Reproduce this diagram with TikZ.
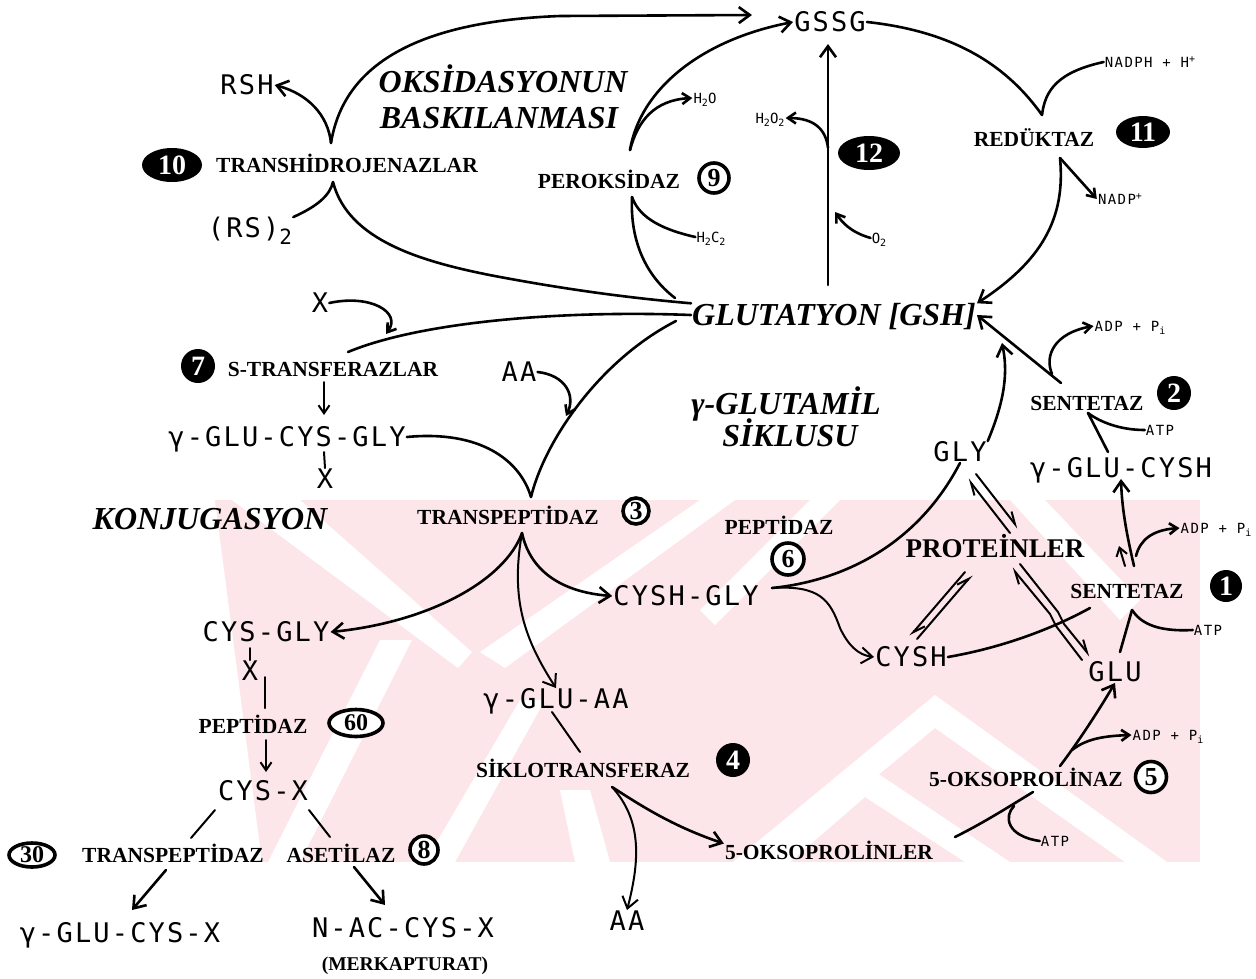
\documentclass[tikz,border=0pt]{standalone}
\usepackage{fontspec}
\setmainfont{Liberation Serif}
\newfontfamily\chemf[LetterSpace=8]{DejaVu Sans Mono}
\newfontfamily\chemsf[LetterSpace=10]{DejaVu Sans Mono}
\usetikzlibrary{arrows.meta,shapes.geometric,calc}
\definecolor{wm}{RGB}{253,230,234}
\newcommand\lowS[1]{\raisebox{-3pt}{\fontsize{10}{10}\selectfont #1}}
\newcommand\upS[1]{\raisebox{5pt}{\fontsize{10}{10}\selectfont #1}}
\newcommand\lowL[1]{\raisebox{-7pt}{\fontsize{21}{21}\selectfont #1}}
\tikzset{
 chem/.style={font=\chemf\fontsize{27}{27}\selectfont, inner sep=1pt, text height=19.5pt, text depth=0pt},
 chems/.style={font=\chemsf\fontsize{14}{14}\selectfont, inner sep=1pt, text height=10pt, text depth=0pt},
 enz/.style={font=\bfseries\fontsize{21.5}{22}\selectfont, inner sep=1pt, text height=14.5pt, text depth=0pt},
 ttl/.style={font=\bfseries\itshape\fontsize{32}{34}\selectfont, inner sep=1pt, text height=21pt, text depth=0pt},
 bb/.style={circle, fill=black, text=white, font=\bfseries\fontsize{28}{28}\selectfont, inner sep=0pt, minimum size=34pt},
 bw/.style={circle, draw=black, line width=3.6pt, fill=white, font=\bfseries\fontsize{26}{26}\selectfont, inner sep=0pt, minimum size=30pt},
 bb2/.style={ellipse, fill=black, text=white, font=\bfseries\fontsize{28}{28}\selectfont, inner sep=0pt, minimum width=60pt, minimum height=34pt},
 bw2/.style={ellipse, draw=black, line width=3.6pt, fill=white, font=\bfseries\fontsize{24}{24}\selectfont, inner sep=0pt, minimum width=54pt, minimum height=27pt},
 ln/.style={line width=2.6pt, line cap=round},
 lns/.style={line width=2pt, line cap=round},
 arr/.style={-{Straight Barb[length=11pt,width=16pt]}},
 arrs/.style={-{Straight Barb[length=8pt,width=11pt]}},
 harp/.style={-{Straight Barb[harpoon,length=12pt,width=10pt]}},
}
\begin{document}
\begin{tikzpicture}[x=1pt,y=-1pt]
\useasboundingbox (0,0) rectangle (1256,978);
\fill[white] (0,0) rectangle (1256,978);
% ---------- watermark ----------
\begin{scope}
\clip (215,500) -- (1200,500) -- (1200,862) -- (262,862) -- cycle;
\fill[wm] (200,500) rectangle (1200,862);
\fill[white] (232,500) -- (300,500) -- (472,652) -- (458,668) -- cycle;
\fill[white] (700,500) -- (735,500) -- (505,668) -- (480,652) -- cycle;
\fill[white] (380,640) -- (412,640) -- (300,862) -- (268,862) -- cycle;
\fill[white] (520,700) -- (545,700) -- (455,862) -- (425,862) -- cycle;
\fill[white] (560,790) -- (590,790) -- (610,862) -- (575,862) -- cycle;
\fill[white] (810,500) -- (840,500) -- (715,625) -- (700,610) -- cycle;
\fill[white] (733,862) -- (935,695) -- (1167,862) -- (1125,862) -- (935,728) -- (773,862) -- cycle;
\fill[white] (752,862) -- (865,765) -- (1010,862) -- (965,862) -- (865,797) -- (790,862) -- cycle;
\fill[white] (1010,500) -- (1045,500) -- (1140,600) -- (1120,620) -- cycle;
\end{scope}
% ---------- nodes ----------
\node[chem] (gssg) at (830,22) {GSSG};
\node[chem] (rsh) at (247,85) {RSH};
\node[chem] (rs2) at (250,228) {(RS)\lowL{2}};
\node[bb2] (b10) at (172,165) {10};
\node[enz] (transh) at (347,165) {TRANSHİDROJENAZLAR};
\node[ttl] (oks1) at (503,82) {OKSİDASYONUN};
\node[ttl] (oks2) at (499,118) {BASKILANMASI};
\node[enz] (perok) at (609,181) {PEROKSİDAZ};
\node[bw] (b9) at (714,178) {9};
\node[chems] (h2o) at (705,98) {H\lowS{2}O};
\node[chems] (h2c2) at (711,237) {H\lowS{2}C\lowS{2}};
\node[bb2, minimum width=62pt] (b12) at (869,153) {12};
\node[chems] (h2o2) at (770,118) {H\lowS{2}O\lowS{2}};
\node[chems] (o2) at (879,238) {O\lowS{2}};
\node[enz] (reduk) at (1034,139) {REDÜKTAZ};
\node[bb2, minimum width=54pt, minimum height=32pt] (b11) at (1143,132) {11};
\node[chems] (nadph) at (1150,62) {NADPH + H\upS{+}};
\node[chems] (nadp) at (1120,199) {NADP\upS{+}};
\node[ttl] (gsh) at (834,315) {GLUTATYON [GSH]};
\node[chem] (xa) at (320,303) {X};
\node[bb, minimum size=34pt] (b7) at (198,366) {7};
\node[enz] (strans) at (333,369) {S-TRANSFERAZLAR};
\node[chem] (aa1) at (519,372) {AA};
\node[chem] (gcg) at (287,437) {γ-GLU-CYS-GLY};
\node[chem] (xb) at (325,479) {X};
\node[ttl] (konj) at (210,519) {KONJUGASYON};
\node[enz] (transp) at (508,517) {TRANSPEPTİDAZ};
\node[bw, minimum size=26pt] (b3) at (636,511) {3};
\node[ttl] (gl1) at (786,404) {γ-GLUTAMİL};
\node[ttl] (gl2) at (790,436) {SİKLUSU};
\node[chem] (gly) at (960,452) {GLY};
\node[chem] (gglucysh) at (1121,468) {γ-GLU-CYSH};
\node[enz] (sent2) at (1087,403) {SENTETAZ};
\node[bb] (b2) at (1174,393) {2};
\node[chems] (atp2) at (1160,430) {ATP};
\node[chems] (adp1) at (1130,326) {ADP + P\lowS{i}};
\node[enz] (pep6) at (779,527) {PEPTİDAZ};
\node[bw, minimum size=32pt] (b6) at (788,559) {6};
\node[chem] (cyshgly) at (686,596) {CYSH-GLY};
\node[enz, font=\bfseries\fontsize{27}{28}\selectfont, text height=18pt] (prot) at (995,548) {PROTEİNLER};
\node[enz] (sent1) at (1127,591) {SENTETAZ};
\node[bb, minimum size=32pt] (b1) at (1226,586) {1};
\node[chems] (adp2) at (1216,528) {ADP + P\lowS{i}};
\node[chems] (atp1) at (1208,630) {ATP};
\node[chem] (cysgly) at (266,632) {CYS-GLY};
\node[chem] (xc) at (250,671) {X};
\node[chem] (cysh) at (911,657) {CYSH};
\node[chem] (glu) at (1115,672) {GLU};
\node[chem] (gluaa) at (556,699) {γ-GLU-AA};
\node[enz] (pep60) at (253,726) {PEPTİDAZ};
\node[bw2] (b60) at (356,723) {60};
\node[enz] (siklo) at (583,770) {SİKLOTRANSFERAZ};
\node[bb] (b4) at (733,760) {4};
\node[enz] (oksnaz) at (1026,779) {5-OKSOPROLİNAZ};
\node[bw, minimum size=31pt] (b5) at (1151,777) {5};
\node[chems] (adp3) at (1168,735) {ADP + P\lowS{i}};
\node[chem] (cysx) at (263,791) {CYS-X};
\node[bw2, minimum width=46pt, minimum height=24pt] (b30) at (32,855) {30};
\node[enz] (transp2) at (173,855) {TRANSPEPTİDAZ};
\node[enz] (asetil) at (341,855) {ASETİLAZ};
\node[bw, minimum size=28pt] (b8) at (424,850) {8};
\node[enz] (oksler) at (829,852) {5-OKSOPROLİNLER};
\node[chems] (atp3) at (1055,841) {ATP};
\node[chem] (aa2) at (627,921) {AA};
\node[chem] (gcx) at (120,933) {γ-GLU-CYS-X};
\node[chem] (nac) at (403,928) {N-AC-CYS-X};
\node[enz, font=\bfseries\fontsize{19.5}{20}\selectfont] (merk) at (405,963) {(MERKAPTURAT)};
% ---------- junction coordinates ----------
\coordinate (tht) at (331,143);
\coordinate (thb) at (333,182);
\coordinate (gssgA) at (752,15);
\coordinate (pkt) at (630,150);
\coordinate (pkb) at (632,197);
\coordinate (vb) at (828,285);
\coordinate (vtop) at (828,44);
\coordinate (vt) at (828,148);
\coordinate (vo) at (835,212);
\coordinate (rdt) at (1042,115);
\coordinate (rdb) at (1060,158);
\coordinate (sta) at (386,334);
\coordinate (stb) at (348,352);
\coordinate (sa) at (324,382);
\coordinate (sb) at (324,415);
\coordinate (sc) at (324,452);
\coordinate (tpt) at (531,497);
\coordinate (tpb) at (522,533);
\coordinate (cgf) at (772,588);
\coordinate (s1b) at (1132,610);
\coordinate (s1t) at (1134,566);
\coordinate (s2b) at (1088,413);
\coordinate (s2t) at (1061,383);
\coordinate (skb) at (612,787);
\coordinate (okb) at (1033,792);
\coordinate (okt) at (1060,766);
\coordinate (pa) at (265,677);
\coordinate (pb) at (265,708);
\coordinate (pc) at (266,740);
\coordinate (pd) at (266,772);
\coordinate (ca) at (215,810);
\coordinate (cb) at (191,838);
\coordinate (cc) at (309,810);
\coordinate (cd) at (330,837);
\coordinate (ta) at (166,870);
\coordinate (tb) at (132,910);
\coordinate (aa) at (354,867);
\coordinate (ab) at (385,905);
% ---------- connectors: redox part ----------
\draw[ln,arr] (tht) .. controls (342,75) and (400,22) .. (560,16) -- (gssgA);
\draw[ln,arr] (tht) .. controls (328,115) and (308,94) .. (rsh.east);
\draw[ln] (rs2.north east) .. controls (318,206) and (330,195) .. (thb);
\draw[ln] (thb) .. controls (348,240) and (420,262) .. (500,277) .. controls (570,290) and (630,298) .. (gsh.north west);
\draw[ln,arr] (pkt) .. controls (640,90) and (700,40) .. (gssg.west);
\draw[ln,arrs] (pkt) .. controls (638,120) and (655,100) .. (h2o.west);
\draw[ln] (h2c2.west) .. controls (655,228) and (638,214) .. (pkb);
\draw[ln] (pkb) .. controls (630,240) and (645,275) .. (675,298);
\draw[ln,arr] (vb) -- (vtop);
\draw[ln,arrs] (vt) .. controls (826,130) and (815,118) .. (h2o2.east);
\draw[ln,arrs] (o2.west) .. controls (850,232) and (842,222) .. (vo);
\draw[ln] (gssg.east) .. controls (960,32) and (1010,70) .. (rdt);
\draw[ln] (nadph.west) .. controls (1058,72) and (1045,90) .. (rdt);
\draw[ln,arrs] (rdb) -- (nadp.west);
\draw[ln,arr] (rdb) .. controls (1066,220) and (1040,262) .. (gsh.north east);
% ---------- conjugation ----------
\draw[ln,arrs] (xa.east) .. controls (370,294) and (402,312) .. (sta);
\draw[ln] (gsh.west) .. controls (560,310) and (420,322) .. (stb);
\draw[lns,arrs] (sa) -- (sb);
\draw[lns] (sc) -- (xb.north);
\draw[ln,arrs] (aa1.east) .. controls (565,375) and (576,395) .. (566,416);
\draw[ln] (676,321) .. controls (600,360) and (545,440) .. (tpt);
\draw[ln] (gcg.east) .. controls (480,430) and (520,460) .. (tpt);
\draw[ln,arr] (tpb) .. controls (505,580) and (430,622) .. (cysgly.east);
\draw[lns,arr] (tpb) .. controls (510,600) and (525,640) .. (gluaa.north);
\draw[ln,arr] (tpb) .. controls (530,570) and (560,592) .. (cyshgly.west);
\draw[lns] (250,648) -- (xc.north);
\draw[lns] (pa) -- (pb);
\draw[lns,arrs] (pc) -- (pd);
\draw[lns] (ca) -- (cb);
\draw[lns] (cc) -- (cd);
\draw[ln,arr] (ta) -- (tb);
\draw[ln,arr] (aa) -- (ab);
% ---------- gamma-glutamyl cycle ----------
\draw[ln] (cgf) .. controls (850,580) and (920,540) .. (gly.south);
\draw[lns,arr] (cgf) .. controls (820,585) and (830,600) .. (840,628) .. controls (848,645) and (858,655) .. (cysh.west);
\draw[ln,arr] (gly.north east) .. controls (1005,400) and (1008,372) .. (1002,343);
\draw[lns,harp] (976,474) -- (1018,528);
\draw[lns,harp] (1010,533) -- (968,479);
\draw[lns,harp] (965,572) -- (910,636);
\draw[lns,harp] (917,639) -- (972,575);
\draw[lns,harp] (1082,660) -- (1056,626) -- (1050,614) -- (1012,568);
\draw[lns,harp] (1020,564) -- (1058,612) -- (1064,624) -- (1090,656);
\draw[ln] (cysh.east) .. controls (1000,648) and (1050,630) .. (1090,608);
\draw[ln] (1120,652) -- (s1b);
\draw[ln] (atp1.west) .. controls (1155,632) and (1140,622) .. (s1b);
\draw[ln,arr] (s1t) .. controls (1128,540) and (1122,512) .. (gglucysh.south);
\draw[lns,arrs] (1125,566) -- (1119,546);
\draw[ln,arrs] (1136,556) .. controls (1140,540) and (1152,530) .. (adp2.west);
\draw[ln] (1108,452) -- (s2b);
\draw[ln] (atp2.west) .. controls (1120,430) and (1100,422) .. (s2b);
\draw[ln,arr] (s2t) -- (gsh.east);
\draw[ln,arrs] (1052,374) .. controls (1044,355) and (1055,333) .. (adp1.west);
\draw[lns] (552,712) -- (580,752);
\draw[ln,arr] (skb) .. controls (640,805) and (672,826) .. (oksler.north west);
\draw[lns,arr] (skb) .. controls (642,820) and (640,860) .. (aa2.north);
\draw[ln] (955,837) .. controls (985,822) and (1010,806) .. (okb);
\draw[ln] (atp3.west) .. controls (1006,836) and (1004,816) .. (1014,806);
\draw[ln,arr] (okt) .. controls (1076,745) and (1096,715) .. (glu.south);
\draw[ln,arrs] (1072,750) .. controls (1085,740) and (1100,736) .. (adp3.west);
\end{tikzpicture}
\end{document}
